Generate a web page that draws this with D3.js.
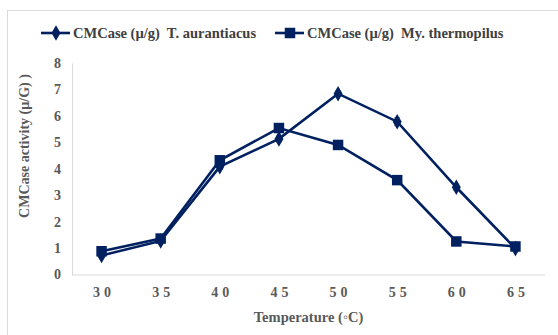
<!DOCTYPE html>
<html>
<head>
<meta charset="utf-8">
<script src="https://cdn.jsdelivr.net/npm/d3@7"></script>
<style>
  html, body { margin: 0; padding: 0; background: #fff; }
  svg { display: block; }
  text { font-family: "Liberation Serif", "Times New Roman", serif; font-weight: bold; white-space: pre; }
</style>
</head>
<body>
<svg id="chart" width="558" height="335"></svg>
<script>
// Temperature categories (°C)
const temperatures = ["30", "35", "40", "45", "50", "55", "60", "65"];
// CMCase activity (µ/g) per strain
const aurantiacus = [0.72, 1.27, 4.08, 5.13, 6.84, 5.78, 3.30, 0.98];
const aurantiacusErr = [0.05, 0.05, 0.08, 0.12, 0.1, 0.15, 0.12, 0.06];
const thermopilus = [0.88, 1.36, 4.32, 5.54, 4.90, 3.57, 1.25, 1.06];
const thermopilusErr = [0.05, 0.05, 0.06, 0.1, 0.06, 0.06, 0.05, 0.05];
const yTicks = [0, 1, 2, 3, 4, 5, 6, 7, 8];
const seriesNames = ["CMCase (µ/g)  T. aurantiacus", "CMCase (µ/g)  My. thermopilus"];

const svg = d3.select("#chart");
const navy = "#002060";
const grey = "#595959";

// Outer frame
svg.append("rect")
  .attr("x", 7.5).attr("y", 10.5).attr("width", 560).attr("height", 340)
  .attr("fill", "none").attr("stroke", "#d9d9d9").attr("stroke-width", 1);

const plotLeft = 72, plotRight = 545, plotTop = 63, plotBottom = 274.5;

const x = d3.scalePoint().domain(temperatures).range([plotLeft, plotRight]).padding(0.5);
const y = d3.scaleLinear().domain([0, 8]).range([plotBottom, plotTop]);

// Axes
const yAxis = svg.append("g").attr("transform", `translate(${plotLeft},0)`)
  .call(d3.axisLeft(y).tickValues(yTicks).tickSize(0).tickPadding(11));
yAxis.select(".domain").attr("stroke", "#d9d9d9");
yAxis.selectAll("text").attr("fill", grey).attr("font-size", 14)
  .attr("font-family", "Liberation Serif").attr("font-weight", "bold");

const xAxis = svg.append("g").attr("transform", `translate(0,${plotBottom})`)
  .call(d3.axisBottom(x).tickSize(0).tickPadding(13));
xAxis.select(".domain").attr("stroke", "#d9d9d9").attr("d", `M${plotLeft},0.5H${plotRight}`);
xAxis.selectAll("text").attr("fill", grey).attr("font-size", 14)
  .attr("font-family", "Liberation Serif").attr("font-weight", "bold")
  .attr("letter-spacing", "4px").attr("dx", "2px");

// Axis titles
svg.append("text")
  .attr("x", (plotLeft + plotRight) / 2).attr("y", 322)
  .attr("text-anchor", "middle").attr("fill", grey).attr("font-size", 14.5)
  .text("Temperature (◦C)");

svg.append("text")
  .attr("transform", "translate(29,146) rotate(-90)")
  .attr("text-anchor", "middle").attr("fill", grey).attr("font-size", 14)
  .text("CMCase activity (µ/G) )");

const line = d3.line().x((d, i) => x(temperatures[i])).y(d => y(d));

function drawErrors(values, errs) {
  const g = svg.append("g").attr("stroke", "#7f7f7f").attr("stroke-width", 1);
  values.forEach((v, i) => {
    const cx = x(temperatures[i]);
    g.append("line").attr("x1", cx).attr("x2", cx).attr("y1", y(v - errs[i])).attr("y2", y(v + errs[i]));
    g.append("line").attr("x1", cx - 3).attr("x2", cx + 3).attr("y1", y(v + errs[i])).attr("y2", y(v + errs[i]));
    g.append("line").attr("x1", cx - 3).attr("x2", cx + 3).attr("y1", y(v - errs[i])).attr("y2", y(v - errs[i]));
  });
}

drawErrors(aurantiacus, aurantiacusErr);
drawErrors(thermopilus, thermopilusErr);

// Lines
svg.append("path").datum(aurantiacus).attr("d", line)
  .attr("fill", "none").attr("stroke", navy).attr("stroke-width", 2.6);
svg.append("path").datum(thermopilus).attr("d", line)
  .attr("fill", "none").attr("stroke", navy).attr("stroke-width", 2.6);

const diamond = d3.symbol().type(d3.symbolDiamond).size(70);
const square = d3.symbol().type(d3.symbolSquare).size(110);

svg.append("g").selectAll("path").data(aurantiacus).join("path")
  .attr("d", diamond)
  .attr("transform", (d, i) => `translate(${x(temperatures[i])},${y(d)})`)
  .attr("fill", navy);

svg.append("g").selectAll("path").data(thermopilus).join("path")
  .attr("d", square)
  .attr("transform", (d, i) => `translate(${x(temperatures[i])},${y(d)})`)
  .attr("fill", navy);

// Legend
const legendItems = [
  { name: seriesNames[0], sym: diamond, x0: 41 },
  { name: seriesNames[1], sym: square, x0: 275 }
];
const lg = svg.append("g");
legendItems.forEach(item => {
  lg.append("line").attr("x1", item.x0).attr("x2", item.x0 + 29)
    .attr("y1", 33).attr("y2", 33).attr("stroke", navy).attr("stroke-width", 2.6);
  lg.append("path").attr("d", item.sym)
    .attr("transform", `translate(${item.x0 + 15},33)`).attr("fill", navy);
  lg.append("text").attr("x", item.x0 + 32).attr("y", 38)
    .attr("fill", "#404040").attr("font-size", 14.5).text(item.name);
});
</script>
</body>
</html>
